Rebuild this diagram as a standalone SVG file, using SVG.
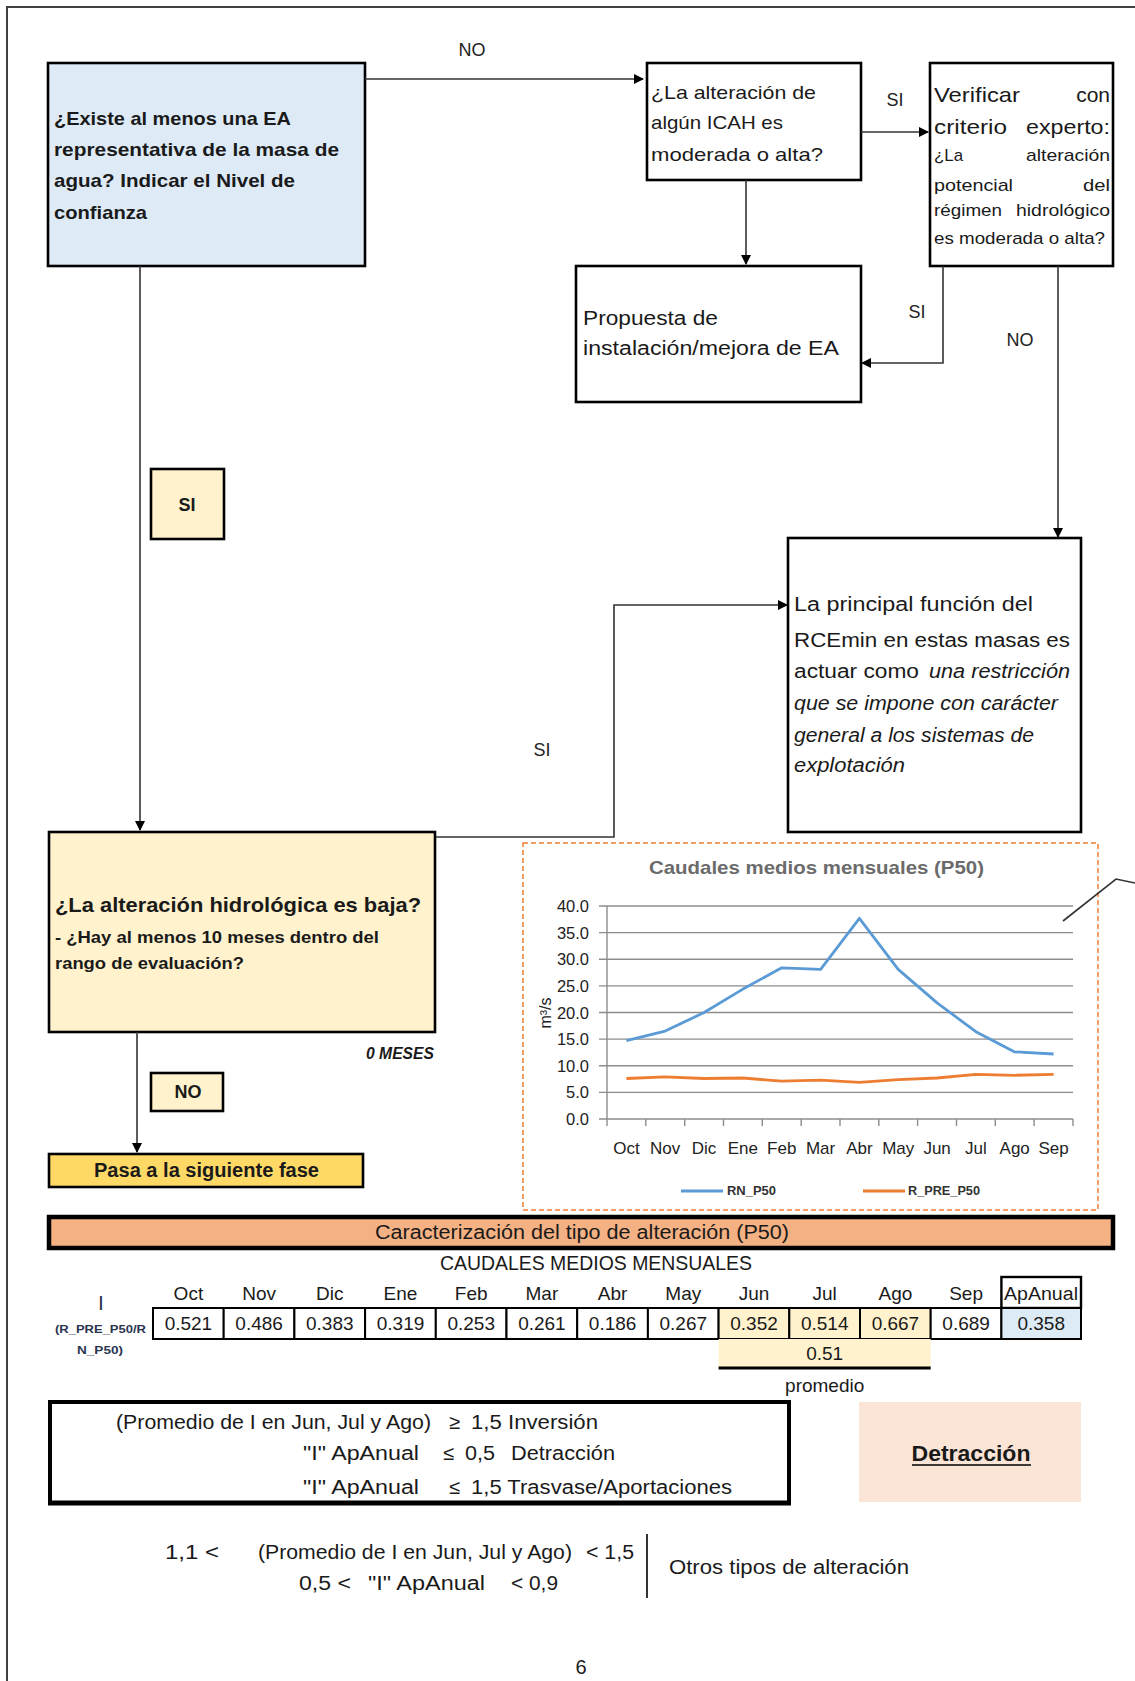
<svg xmlns="http://www.w3.org/2000/svg" width="1135" height="1681" viewBox="0 0 1135 1681">
<style>
text{font-family:"Liberation Sans",Arial,sans-serif;fill:#1a1a1a}
.b{font-weight:bold}
.i{font-style:italic}
.box{stroke:#000;stroke-width:2.6}
.con{fill:none;stroke:#333;stroke-width:1.6}
.lbl{font-size:18px;fill:#222}
.grid{stroke:#8c8c8c;stroke-width:1.4}
.yl{font-size:16.5px;text-anchor:end;fill:#222}
.xl{font-size:17px;text-anchor:middle;fill:#222}
.hd{font-size:19px;text-anchor:middle}
.val{font-size:19px;text-anchor:middle}
.cell{fill:#fff;stroke:#000;stroke-width:2}
.t20{font-size:20px}
</style>
<defs>
<marker id="ah" markerWidth="10" markerHeight="10" refX="9" refY="5" orient="auto" markerUnits="userSpaceOnUse">
<path d="M0,0 L10,5 L0,10 Z" fill="#000"/>
</marker>
</defs>
<rect width="1135" height="1681" fill="#fff"/>
<path d="M7,1681 V7 H1135" fill="none" stroke="#404040" stroke-width="2"/>

<g id="n-existe">
<rect class="box" x="48" y="63" width="317" height="203" fill="#DEEBF7"/>
<text class="b" font-size="19" x="54" y="125" textLength="237" lengthAdjust="spacingAndGlyphs">¿Existe al menos una EA</text>
<text class="b" font-size="19" x="54" y="156" textLength="285" lengthAdjust="spacingAndGlyphs">representativa de la masa de</text>
<text class="b" font-size="19" x="54" y="187" textLength="241" lengthAdjust="spacingAndGlyphs">agua? Indicar el Nivel de</text>
<text class="b" font-size="19" x="54" y="219" textLength="93" lengthAdjust="spacingAndGlyphs">confianza</text>
</g>

<g id="n-icah">
<rect class="box" x="647" y="63" width="214" height="117" fill="#fff"/>
<text font-size="19" x="651" y="99" textLength="165" lengthAdjust="spacingAndGlyphs">¿La alteración de</text>
<text font-size="19" x="651" y="129" textLength="132" lengthAdjust="spacingAndGlyphs">algún ICAH es</text>
<text font-size="19" x="651" y="161" textLength="172" lengthAdjust="spacingAndGlyphs">moderada o alta?</text>
</g>

<g id="n-verificar">
<rect class="box" x="930" y="63" width="183" height="203" fill="#fff"/>
<text font-size="21" x="934" y="102" textLength="86" lengthAdjust="spacingAndGlyphs">Verificar</text>
<text font-size="21" x="1110" y="102" text-anchor="end">con</text>
<text font-size="21" x="934" y="134" textLength="73" lengthAdjust="spacingAndGlyphs">criterio</text>
<text font-size="21" x="1026" y="134" textLength="84" lengthAdjust="spacingAndGlyphs">experto:</text>
<text font-size="17" x="934" y="161" textLength="29" lengthAdjust="spacingAndGlyphs">¿La</text>
<text font-size="17" x="1026" y="161" textLength="84" lengthAdjust="spacingAndGlyphs">alteración</text>
<text font-size="17" x="934" y="191" textLength="79" lengthAdjust="spacingAndGlyphs">potencial</text>
<text font-size="17" x="1083" y="191" textLength="27" lengthAdjust="spacingAndGlyphs">del</text>
<text font-size="17" x="934" y="216" textLength="68" lengthAdjust="spacingAndGlyphs">régimen</text>
<text font-size="17" x="1016" y="216" textLength="94" lengthAdjust="spacingAndGlyphs">hidrológico</text>
<text font-size="17" x="934" y="244" textLength="171" lengthAdjust="spacingAndGlyphs">es moderada o alta?</text>
</g>

<g id="n-propuesta">
<rect class="box" x="576" y="266" width="285" height="136" fill="#fff"/>
<text font-size="20" x="583" y="325" textLength="135" lengthAdjust="spacingAndGlyphs">Propuesta de</text>
<text font-size="20" x="583" y="355" textLength="256" lengthAdjust="spacingAndGlyphs">instalación/mejora de EA</text>
</g>

<g id="n-rcemin">
<rect class="box" x="788" y="538" width="293" height="294" fill="#fff"/>
<text font-size="20" x="794" y="611" textLength="239" lengthAdjust="spacingAndGlyphs">La principal función del</text>
<text font-size="20" x="794" y="647" textLength="276" lengthAdjust="spacingAndGlyphs">RCEmin en estas masas es</text>
<text font-size="20" x="794" y="678" textLength="125" lengthAdjust="spacingAndGlyphs">actuar como</text>
<text class="i" font-size="20" x="929" y="678" textLength="141" lengthAdjust="spacingAndGlyphs">una restricción</text>
<text class="i" font-size="20" x="794" y="710" textLength="264" lengthAdjust="spacingAndGlyphs">que se impone con carácter</text>
<text class="i" font-size="20" x="794" y="742" textLength="240" lengthAdjust="spacingAndGlyphs">general a los sistemas de</text>
<text class="i" font-size="20" x="794" y="772" textLength="111" lengthAdjust="spacingAndGlyphs">explotación</text>
</g>

<g id="n-si">
<rect class="box" x="151" y="469" width="73" height="70" fill="#FFF2CC"/>
<text class="b" font-size="18" x="187" y="511" text-anchor="middle">SI</text>
</g>

<g id="n-alteracion">
<rect class="box" x="49" y="832" width="386" height="200" fill="#FFF2CC"/>
<text class="b" font-size="21" x="55" y="912" textLength="366" lengthAdjust="spacingAndGlyphs">¿La alteración hidrológica es baja?</text>
<text class="b" font-size="17" x="55" y="943" textLength="324" lengthAdjust="spacingAndGlyphs">- ¿Hay al menos 10 meses dentro del</text>
<text class="b" font-size="17" x="55" y="969" textLength="189" lengthAdjust="spacingAndGlyphs">rango de evaluación?</text>
<text class="b i" font-size="16" x="366" y="1059" textLength="68" lengthAdjust="spacingAndGlyphs">0 MESES</text>
</g>

<g id="n-no">
<rect class="box" x="151" y="1073" width="72" height="38" fill="#FFF2CC"/>
<text class="b" font-size="18" x="188" y="1098" text-anchor="middle">NO</text>
</g>

<g id="n-pasa">
<rect class="box" x="49" y="1154" width="314" height="33" fill="#FFD966"/>
<text class="b" font-size="20" x="94" y="1177" textLength="225" lengthAdjust="spacingAndGlyphs">Pasa a la siguiente fase</text>
</g>

<g id="chart">
<rect x="523" y="843" width="575" height="367" fill="#fff" stroke="#ED7D31" stroke-width="1.5" stroke-dasharray="5,3"/>
<text class="b" font-size="19" x="649" y="874" textLength="335" lengthAdjust="spacingAndGlyphs" style="fill:#6b6b6b">Caudales medios mensuales (P50)</text>
<g class="grid">
<line x1="599" y1="906" x2="1073" y2="906"/>
<line x1="599" y1="932.6" x2="1073" y2="932.6"/>
<line x1="599" y1="959.3" x2="1073" y2="959.3"/>
<line x1="599" y1="985.9" x2="1073" y2="985.9"/>
<line x1="599" y1="1012.5" x2="1073" y2="1012.5"/>
<line x1="599" y1="1039.1" x2="1073" y2="1039.1"/>
<line x1="599" y1="1065.8" x2="1073" y2="1065.8"/>
<line x1="599" y1="1092.4" x2="1073" y2="1092.4"/>
<line x1="599" y1="1119" x2="1073" y2="1119"/>
<line x1="607" y1="906" x2="607" y2="1126"/>
<path d="M645.8,1119V1126M684.7,1119V1126M723.5,1119V1126M762.3,1119V1126M801.2,1119V1126M840,1119V1126M878.8,1119V1126M917.6,1119V1126M956.5,1119V1126M995.3,1119V1126M1034.1,1119V1126M1073,1119V1126"/>
</g>
<text class="yl" x="589" y="912">40.0</text>
<text class="yl" x="589" y="938.6">35.0</text>
<text class="yl" x="589" y="965.3">30.0</text>
<text class="yl" x="589" y="991.9">25.0</text>
<text class="yl" x="589" y="1018.5">20.0</text>
<text class="yl" x="589" y="1045.1">15.0</text>
<text class="yl" x="589" y="1071.8">10.0</text>
<text class="yl" x="589" y="1098.4">5.0</text>
<text class="yl" x="589" y="1125">0.0</text>
<text font-size="16" transform="translate(551,1013) rotate(-90)" text-anchor="middle" style="fill:#222">m³/s</text>
<text class="xl" x="626.4" y="1154">Oct</text>
<text class="xl" x="665.2" y="1154">Nov</text>
<text class="xl" x="704.1" y="1154">Dic</text>
<text class="xl" x="742.9" y="1154">Ene</text>
<text class="xl" x="781.7" y="1154">Feb</text>
<text class="xl" x="820.6" y="1154">Mar</text>
<text class="xl" x="859.4" y="1154">Abr</text>
<text class="xl" x="898.2" y="1154">May</text>
<text class="xl" x="937.1" y="1154">Jun</text>
<text class="xl" x="975.9" y="1154">Jul</text>
<text class="xl" x="1014.7" y="1154">Ago</text>
<text class="xl" x="1053.6" y="1154">Sep</text>
<polyline fill="none" stroke="#5B9BD5" stroke-width="2.8" stroke-linejoin="round" points="626.4,1040.7 665.2,1031.1 704.1,1012.5 742.9,989.1 781.7,967.8 820.6,969.4 859.4,918.3 898.2,969.4 937.1,1002.9 975.9,1031.7 1014.7,1051.9 1053.6,1054"/>
<polyline fill="none" stroke="#ED7D31" stroke-width="2.8" stroke-linejoin="round" points="626.4,1078.5 665.2,1076.9 704.1,1078.5 742.9,1078 781.7,1081.2 820.6,1080.1 859.4,1082.3 898.2,1079.6 937.1,1078 975.9,1074.3 1014.7,1075.3 1053.6,1074.3"/>
<line x1="681" y1="1191" x2="723" y2="1191" stroke="#5B9BD5" stroke-width="3"/>
<text class="b" font-size="12" x="727" y="1195" textLength="49" lengthAdjust="spacingAndGlyphs" style="fill:#333">RN_P50</text>
<line x1="863" y1="1191" x2="905" y2="1191" stroke="#ED7D31" stroke-width="3"/>
<text class="b" font-size="12" x="908" y="1195" textLength="72" lengthAdjust="spacingAndGlyphs" style="fill:#333">R_PRE_P50</text>
</g>

<g id="n-caracterizacion">
<rect x="49" y="1217" width="1064" height="31" fill="#F4B183" stroke="#000" stroke-width="4.5"/>
<text class="t20" x="375" y="1239" textLength="414" lengthAdjust="spacingAndGlyphs">Caracterización del tipo de alteración (P50)</text>
</g>

<g id="table">
<text class="t20" x="440" y="1270" textLength="312" lengthAdjust="spacingAndGlyphs">CAUDALES MEDIOS MENSUALES</text>
<text font-size="21" x="101" y="1310" text-anchor="middle" style="fill:#2a3550">I</text>
<text class="b" font-size="11" x="55" y="1333" textLength="91" lengthAdjust="spacingAndGlyphs" style="fill:#2a3550">(R_PRE_P50/R</text>
<text class="b" font-size="11" x="77" y="1354" textLength="46" lengthAdjust="spacingAndGlyphs" style="fill:#2a3550">N_P50)</text>
<rect x="1001.4" y="1277" width="79.6" height="31" fill="#fff" stroke="#000" stroke-width="2.4"/>
<text class="hd" x="188.4" y="1300">Oct</text>
<text class="hd" x="259.1" y="1300">Nov</text>
<text class="hd" x="329.8" y="1300">Dic</text>
<text class="hd" x="400.5" y="1300">Ene</text>
<text class="hd" x="471.2" y="1300">Feb</text>
<text class="hd" x="541.9" y="1300">Mar</text>
<text class="hd" x="612.6" y="1300">Abr</text>
<text class="hd" x="683.3" y="1300">May</text>
<text class="hd" x="754" y="1300">Jun</text>
<text class="hd" x="824.7" y="1300">Jul</text>
<text class="hd" x="895.4" y="1300">Ago</text>
<text class="hd" x="966.1" y="1300">Sep</text>
<text font-size="18" x="1004" y="1300" textLength="74" lengthAdjust="spacingAndGlyphs">ApAnual</text>
<rect class="cell" x="153" y="1308" width="70.7" height="31"/>
<rect class="cell" x="223.7" y="1308" width="70.7" height="31"/>
<rect class="cell" x="294.4" y="1308" width="70.7" height="31"/>
<rect class="cell" x="365.1" y="1308" width="70.7" height="31"/>
<rect class="cell" x="435.8" y="1308" width="70.7" height="31"/>
<rect class="cell" x="506.5" y="1308" width="70.7" height="31"/>
<rect class="cell" x="577.2" y="1308" width="70.7" height="31"/>
<rect class="cell" x="647.9" y="1308" width="70.7" height="31"/>
<rect class="cell" x="718.6" y="1308" width="70.7" height="31" style="fill:#FFF2CC"/>
<rect class="cell" x="789.3" y="1308" width="70.7" height="31" style="fill:#FFF2CC"/>
<rect class="cell" x="860" y="1308" width="70.7" height="31" style="fill:#FFF2CC"/>
<rect class="cell" x="930.7" y="1308" width="70.7" height="31"/>
<rect class="cell" x="1001.4" y="1308" width="79.6" height="31" style="fill:#DDEBF7"/>
<text class="val" x="188.4" y="1330">0.521</text>
<text class="val" x="259.1" y="1330">0.486</text>
<text class="val" x="329.8" y="1330">0.383</text>
<text class="val" x="400.5" y="1330">0.319</text>
<text class="val" x="471.2" y="1330">0.253</text>
<text class="val" x="541.9" y="1330">0.261</text>
<text class="val" x="612.6" y="1330">0.186</text>
<text class="val" x="683.3" y="1330">0.267</text>
<text class="val" x="754" y="1330">0.352</text>
<text class="val" x="824.7" y="1330">0.514</text>
<text class="val" x="895.4" y="1330">0.667</text>
<text class="val" x="966.1" y="1330">0.689</text>
<text class="val" x="1041.2" y="1330">0.358</text>
<rect x="718.6" y="1339" width="212.1" height="29" fill="#FFF2CC"/>
<line x1="718.6" y1="1368" x2="930.7" y2="1368" stroke="#000" stroke-width="3"/>
<text class="val" x="824.7" y="1360">0.51</text>
<text class="val" x="824.7" y="1392">promedio</text>
</g>

<g id="n-criterios">
<rect x="50" y="1402" width="739" height="101" fill="#fff" stroke="#000" stroke-width="4"/>
<line x1="48" y1="1503" x2="791" y2="1503" stroke="#000" stroke-width="5"/>
<text class="t20" x="116" y="1429" textLength="315" lengthAdjust="spacingAndGlyphs">(Promedio de I en Jun, Jul y Ago)</text>
<text class="t20" x="449" y="1429">≥</text>
<text class="t20" x="471" y="1429" textLength="127" lengthAdjust="spacingAndGlyphs">1,5  Inversión</text>
<text class="t20" x="303" y="1460" textLength="116" lengthAdjust="spacingAndGlyphs">"I"  ApAnual</text>
<text class="t20" x="443" y="1460">≤</text>
<text class="t20" x="465" y="1460" textLength="30" lengthAdjust="spacingAndGlyphs">0,5</text>
<text class="t20" x="511" y="1460" textLength="104" lengthAdjust="spacingAndGlyphs">Detracción</text>
<text class="t20" x="303" y="1494" textLength="116" lengthAdjust="spacingAndGlyphs">"I"  ApAnual</text>
<text class="t20" x="449" y="1494">≤</text>
<text class="t20" x="471" y="1494" textLength="261" lengthAdjust="spacingAndGlyphs">1,5 Trasvase/Aportaciones</text>
</g>

<g id="n-detraccion">
<rect x="859" y="1402" width="222" height="100" fill="#FBE5D6"/>
<text class="b" font-size="22" x="971" y="1461" text-anchor="middle" textLength="119" lengthAdjust="spacingAndGlyphs">Detracción</text>
<line x1="912" y1="1465" x2="1031" y2="1465" stroke="#000" stroke-width="1.6"/>
</g>

<g id="n-otros">
<text class="t20" x="165" y="1559" textLength="54" lengthAdjust="spacingAndGlyphs">1,1 &lt;</text>
<text class="t20" x="258" y="1559" textLength="314" lengthAdjust="spacingAndGlyphs">(Promedio de I en Jun, Jul y Ago)</text>
<text class="t20" x="586" y="1559" textLength="48" lengthAdjust="spacingAndGlyphs">&lt; 1,5</text>
<text class="t20" x="299" y="1590" textLength="52" lengthAdjust="spacingAndGlyphs">0,5 &lt;</text>
<text class="t20" x="368" y="1590" textLength="117" lengthAdjust="spacingAndGlyphs">"I"  ApAnual</text>
<text class="t20" x="511" y="1590" textLength="47" lengthAdjust="spacingAndGlyphs">&lt; 0,9</text>
<line x1="647" y1="1534" x2="647" y2="1598" stroke="#000" stroke-width="1.6"/>
<text class="t20" x="669" y="1574" textLength="240" lengthAdjust="spacingAndGlyphs">Otros tipos de alteración</text>
</g>

<text class="t20" x="581" y="1674" text-anchor="middle">6</text>

<g id="connectors">
<path class="con" d="M365,79 H643" marker-end="url(#ah)"/>
<path class="con" d="M861,132 H928" marker-end="url(#ah)"/>
<path class="con" d="M746,180 V264" marker-end="url(#ah)"/>
<path class="con" d="M943,266 V363 H862" marker-end="url(#ah)"/>
<path class="con" d="M1058,266 V537" marker-end="url(#ah)"/>
<path class="con" d="M140,266 V830" stroke="#888" marker-end="url(#ah)"/>
<path class="con" d="M436,837 H614 V605 H787" marker-end="url(#ah)"/>
<path class="con" d="M137,1032 V1152" marker-end="url(#ah)"/>
<path class="con" d="M1063,921 L1116,879 L1135,883" stroke="#222" stroke-width="2"/>
<text class="lbl" x="472" y="56" text-anchor="middle">NO</text>
<text class="lbl" x="895" y="106" text-anchor="middle">SI</text>
<text class="lbl" x="917" y="318" text-anchor="middle">SI</text>
<text class="lbl" x="1020" y="346" text-anchor="middle">NO</text>
<text class="lbl" x="542" y="756" text-anchor="middle">SI</text>
</g>
</svg>
